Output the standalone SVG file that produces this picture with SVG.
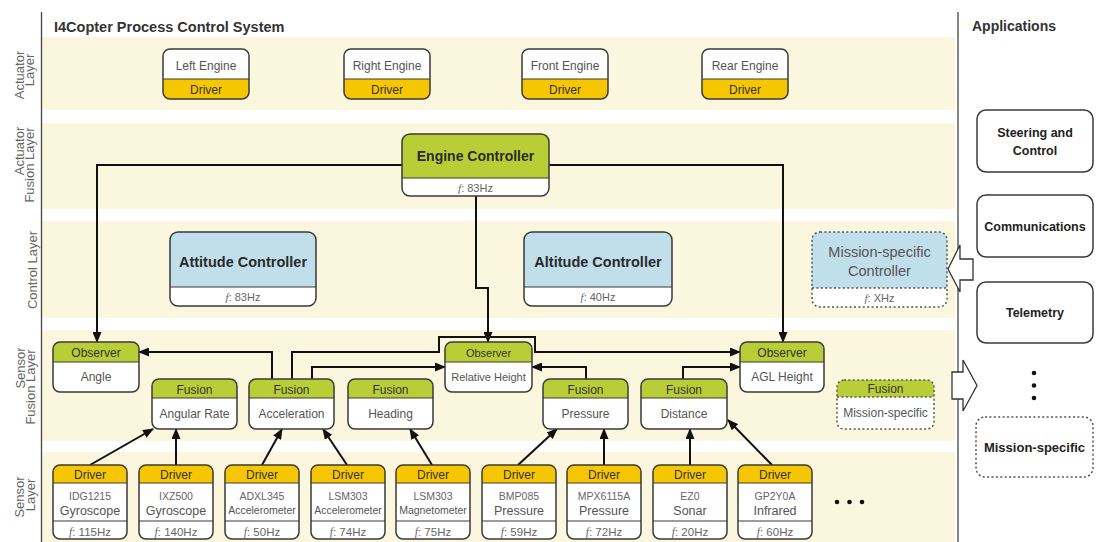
<svg xmlns="http://www.w3.org/2000/svg" width="1098" height="542" viewBox="0 0 1098 542">
  <style>
    .band{fill:#FBF6DE}
    .rule{stroke:#444;stroke-width:1.3}
    .box{fill:none;stroke:#3a3a3a;stroke-width:1.5}
    .dsh{fill:none;stroke:#555;stroke-width:1.5;stroke-dasharray:2 2.4}
    .div{stroke:#3a3a3a;stroke-width:1.2}
    .wf{fill:#fff}
    .yel{fill:#F6C600}
    .grn{fill:#B9CE36}
    .blu{fill:#C1DEEB}
    text{font-family:"Liberation Sans",Arial,Helvetica,sans-serif}
    .ttl{font-size:14.5px;font-weight:bold;fill:#333}
    .lay{font-size:13px;fill:#666;text-anchor:middle}
    .hd{font-size:12px;fill:#333;text-anchor:middle}
    .bd{font-size:12px;fill:#555;text-anchor:middle}
    .ctl{font-size:14.5px;font-weight:bold;fill:#2a2a2a;text-anchor:middle}
    .frq{font-size:11px;fill:#666;text-anchor:middle}
    .frs{font-size:11.5px;fill:#666;text-anchor:middle}
    .mdl{font-size:10.5px;fill:#666;text-anchor:middle}
    .typ{font-size:12.5px;fill:#555;text-anchor:middle}
    .sm{font-size:10.5px;fill:#555;text-anchor:middle}
    .app{font-size:12.5px;font-weight:bold;fill:#222;text-anchor:middle}
    .msc{font-size:14.5px;fill:#555;text-anchor:middle}
    .it{font-family:"Liberation Serif",serif;font-style:italic}
    .conn{fill:none;stroke:#111;stroke-width:2;marker-end:url(#ah)}
    .hollow{fill:#fff;stroke:#333;stroke-width:1.3}
  </style>
  <defs>
    <marker id="ah" markerUnits="userSpaceOnUse" markerWidth="11" markerHeight="9" refX="10" refY="4.5" orient="auto">
      <path d="M0,0 L11,4.5 L0,9 Z" fill="#111"/>
    </marker>
  </defs>

  <!-- layer bands -->
  <g id="bands">
    <rect class="band" x="42" y="37" width="913" height="73"/>
    <rect class="band" x="42" y="123" width="913" height="86"/>
    <rect class="band" x="42" y="221" width="913" height="97"/>
    <rect class="band" x="42" y="330" width="913" height="111"/>
    <rect class="band" x="42" y="452" width="913" height="90"/>
  </g>
  <line class="rule" x1="41.5" y1="12" x2="41.5" y2="542"/>
  <line class="rule" x1="958" y1="12" x2="958" y2="542"/>

  <!-- headings -->
  <text class="ttl" x="54" y="32">I4Copter Process Control System</text>
  <text class="ttl" x="972" y="31" style="font-size:14px">Applications</text>

  <!-- layer labels (rotated) -->
  <g id="layer-labels">
    <text class="lay" transform="rotate(-90)"><tspan x="-75" y="24">Actuator</tspan><tspan x="-70" y="34">Layer</tspan></text>
    <text class="lay" transform="rotate(-90)"><tspan x="-151" y="24">Actuator</tspan><tspan x="-165" y="34">Fusion Layer</tspan></text>
    <text class="lay" transform="rotate(-90)"><tspan x="-270" y="37">Control Layer</tspan></text>
    <text class="lay" transform="rotate(-90)"><tspan x="-368" y="25">Sensor</tspan><tspan x="-387" y="35">Fusion Layer</tspan></text>
    <text class="lay" transform="rotate(-90)"><tspan x="-497" y="24">Sensor</tspan><tspan x="-495" y="35">Layer</tspan></text>
  </g>

  <!-- connectors -->
  <g id="connectors">
    <path class="conn" d="M402,165 H97 V342"/>
    <path class="conn" d="M549,165 H783 V342"/>
    <path class="conn" d="M476,196 V288 H488 V342"/>
    <path class="conn" d="M272,379 V352 H139"/>
    <path class="conn" d="M292,379 V352 H439 V337 H535 V352 H740"/>
    <path class="conn" d="M312,379 V367 H445"/>
    <path class="conn" d="M586,379 V367 H532"/>
    <path class="conn" d="M683,379 V367 H740"/>
    <path class="conn" d="M90,465 L153,429"/>
    <path class="conn" d="M176,465 V429"/>
    <path class="conn" d="M262,465 L282,429"/>
    <path class="conn" d="M347,465 L323,429"/>
    <path class="conn" d="M432,465 L410,429"/>
    <path class="conn" d="M518,465 L557,429"/>
    <path class="conn" d="M604,465 V429"/>
    <path class="conn" d="M690,465 V429"/>
    <path class="conn" d="M772,465 L728,420"/>
    <polygon class="hollow" points="948,269 960,245 960,259 973,259 973,280 960,280 960,292"/>
    <polygon class="hollow" points="952,372 963,372 963,360 977,385.5 963,411 963,399 952,399"/>
  </g>

  <!-- actuator layer -->
  <g id="left-engine">
    <rect class="wf" x="163" y="49" width="86" height="50" rx="7"/>
    <path class="yel" d="M163,79 H249 V92 A7,7 0 0 1 242,99 H170 A7,7 0 0 1 163,92 Z"/>
    <line class="div" x1="163" y1="79" x2="249" y2="79"/>
    <rect class="box" x="163" y="49" width="86" height="50" rx="7"/>
    <text class="bd" x="206" y="70">Left Engine</text>
    <text class="hd" x="206" y="93.5">Driver</text>
  </g>
  <g id="right-engine">
    <rect class="wf" x="344" y="49" width="86" height="50" rx="7"/>
    <path class="yel" d="M344,79 H430 V92 A7,7 0 0 1 423,99 H351 A7,7 0 0 1 344,92 Z"/>
    <line class="div" x1="344" y1="79" x2="430" y2="79"/>
    <rect class="box" x="344" y="49" width="86" height="50" rx="7"/>
    <text class="bd" x="387" y="70">Right Engine</text>
    <text class="hd" x="387" y="93.5">Driver</text>
  </g>
  <g id="front-engine">
    <rect class="wf" x="522" y="49" width="86" height="50" rx="7"/>
    <path class="yel" d="M522,79 H608 V92 A7,7 0 0 1 601,99 H529 A7,7 0 0 1 522,92 Z"/>
    <line class="div" x1="522" y1="79" x2="608" y2="79"/>
    <rect class="box" x="522" y="49" width="86" height="50" rx="7"/>
    <text class="bd" x="565" y="70">Front Engine</text>
    <text class="hd" x="565" y="93.5">Driver</text>
  </g>
  <g id="rear-engine">
    <rect class="wf" x="702" y="49" width="86" height="50" rx="7"/>
    <path class="yel" d="M702,79 H788 V92 A7,7 0 0 1 781,99 H709 A7,7 0 0 1 702,92 Z"/>
    <line class="div" x1="702" y1="79" x2="788" y2="79"/>
    <rect class="box" x="702" y="49" width="86" height="50" rx="7"/>
    <text class="bd" x="745" y="70">Rear Engine</text>
    <text class="hd" x="745" y="93.5">Driver</text>
  </g>

  <!-- actuator fusion layer -->
  <g id="engine-controller">
    <rect class="wf" x="402" y="134" width="147" height="62" rx="8"/>
    <path class="grn" d="M402,178 V142 A8,8 0 0 1 410,134 H541 A8,8 0 0 1 549,142 V178 Z"/>
    <line class="div" x1="402" y1="178" x2="549" y2="178"/>
    <rect class="box" x="402" y="134" width="147" height="62" rx="8"/>
    <text class="ctl" x="475.5" y="161" style="font-size:14px">Engine Controller</text>
    <text class="frq" x="475.5" y="191.5"><tspan class="it">f</tspan>: 83Hz</text>
  </g>

  <!-- control layer -->
  <g id="attitude-controller">
    <rect class="wf" x="170" y="232" width="146" height="74" rx="8"/>
    <path class="blu" d="M170,287 V240 A8,8 0 0 1 178,232 H308 A8,8 0 0 1 316,240 V287 Z"/>
    <line class="div" x1="170" y1="287" x2="316" y2="287"/>
    <rect class="box" x="170" y="232" width="146" height="74" rx="8"/>
    <text class="ctl" x="243" y="267">Attitude Controller</text>
    <text class="frq" x="243" y="301"><tspan class="it">f</tspan>: 83Hz</text>
  </g>
  <g id="altitude-controller">
    <rect class="wf" x="524" y="232" width="148" height="74" rx="8"/>
    <path class="blu" d="M524,287 V240 A8,8 0 0 1 532,232 H664 A8,8 0 0 1 672,240 V287 Z"/>
    <line class="div" x1="524" y1="287" x2="672" y2="287"/>
    <rect class="box" x="524" y="232" width="148" height="74" rx="8"/>
    <text class="ctl" x="598" y="267">Altitude Controller</text>
    <text class="frq" x="598" y="301"><tspan class="it">f</tspan>: 40Hz</text>
  </g>
  <g id="mission-controller">
    <rect class="wf" x="812" y="232" width="135" height="75" rx="8"/>
    <path class="blu" d="M812,288 V240 A8,8 0 0 1 820,232 H939 A8,8 0 0 1 947,240 V288 Z"/>
    <line class="dsh" x1="812" y1="288" x2="947" y2="288"/>
    <rect class="dsh" x="812" y="232" width="135" height="75" rx="8"/>
    <text class="msc" x="879.5" y="257">Mission-specific</text>
    <text class="msc" x="879.5" y="276">Controller</text>
    <text class="frq" x="879.5" y="302"><tspan class="it">f</tspan>: XHz</text>
  </g>

  <!-- sensor fusion layer: observers -->
  <g id="observer-angle">
    <rect class="wf" x="53" y="342" width="86" height="50" rx="7"/>
    <path class="grn" d="M53,362 V349 A7,7 0 0 1 60,342 H132 A7,7 0 0 1 139,349 V362 Z"/>
    <line class="div" x1="53" y1="362" x2="139" y2="362"/>
    <rect class="box" x="53" y="342" width="86" height="50" rx="7"/>
    <text class="hd" x="96" y="356.5">Observer</text>
    <text class="bd" x="96" y="381">Angle</text>
  </g>
  <g id="observer-relative-height">
    <rect class="wf" x="445" y="342" width="87" height="50" rx="7"/>
    <path class="grn" d="M445,362 V349 A7,7 0 0 1 452,342 H525 A7,7 0 0 1 532,349 V362 Z"/>
    <line class="div" x1="445" y1="362" x2="532" y2="362"/>
    <rect class="box" x="445" y="342" width="87" height="50" rx="7"/>
    <text class="hd" x="488.5" y="356.5" style="font-size:11px">Observer</text>
    <text class="bd" x="488.5" y="381" style="font-size:11px">Relative Height</text>
  </g>
  <g id="observer-agl-height">
    <rect class="wf" x="740" y="342" width="84" height="50" rx="7"/>
    <path class="grn" d="M740,362 V349 A7,7 0 0 1 747,342 H817 A7,7 0 0 1 824,349 V362 Z"/>
    <line class="div" x1="740" y1="362" x2="824" y2="362"/>
    <rect class="box" x="740" y="342" width="84" height="50" rx="7"/>
    <text class="hd" x="782" y="356.5">Observer</text>
    <text class="bd" x="782" y="381">AGL Height</text>
  </g>

  <!-- sensor fusion layer: fusion nodes -->
  <g id="fusion-angular-rate">
    <rect class="wf" x="152" y="379" width="85" height="50" rx="7"/>
    <path class="grn" d="M152,398 V386 A7,7 0 0 1 159,379 H230 A7,7 0 0 1 237,386 V398 Z"/>
    <line class="div" x1="152" y1="398" x2="237" y2="398"/>
    <rect class="box" x="152" y="379" width="85" height="50" rx="7"/>
    <text class="hd" x="194.5" y="393.5">Fusion</text>
    <text class="bd" x="194.5" y="418">Angular Rate</text>
  </g>
  <g id="fusion-acceleration">
    <rect class="wf" x="249" y="379" width="85" height="50" rx="7"/>
    <path class="grn" d="M249,398 V386 A7,7 0 0 1 256,379 H327 A7,7 0 0 1 334,386 V398 Z"/>
    <line class="div" x1="249" y1="398" x2="334" y2="398"/>
    <rect class="box" x="249" y="379" width="85" height="50" rx="7"/>
    <text class="hd" x="291.5" y="393.5">Fusion</text>
    <text class="bd" x="291.5" y="418">Acceleration</text>
  </g>
  <g id="fusion-heading">
    <rect class="wf" x="348" y="379" width="85" height="50" rx="7"/>
    <path class="grn" d="M348,398 V386 A7,7 0 0 1 355,379 H426 A7,7 0 0 1 433,386 V398 Z"/>
    <line class="div" x1="348" y1="398" x2="433" y2="398"/>
    <rect class="box" x="348" y="379" width="85" height="50" rx="7"/>
    <text class="hd" x="390.5" y="393.5">Fusion</text>
    <text class="bd" x="390.5" y="418">Heading</text>
  </g>
  <g id="fusion-pressure">
    <rect class="wf" x="543" y="379" width="85" height="50" rx="7"/>
    <path class="grn" d="M543,398 V386 A7,7 0 0 1 550,379 H621 A7,7 0 0 1 628,386 V398 Z"/>
    <line class="div" x1="543" y1="398" x2="628" y2="398"/>
    <rect class="box" x="543" y="379" width="85" height="50" rx="7"/>
    <text class="hd" x="585.5" y="393.5">Fusion</text>
    <text class="bd" x="585.5" y="418">Pressure</text>
  </g>
  <g id="fusion-distance">
    <rect class="wf" x="641" y="379" width="86" height="50" rx="7"/>
    <path class="grn" d="M641,398 V386 A7,7 0 0 1 648,379 H720 A7,7 0 0 1 727,386 V398 Z"/>
    <line class="div" x1="641" y1="398" x2="727" y2="398"/>
    <rect class="box" x="641" y="379" width="86" height="50" rx="7"/>
    <text class="hd" x="684" y="393.5">Fusion</text>
    <text class="bd" x="684" y="418">Distance</text>
  </g>
  <g id="fusion-mission-specific">
    <rect class="wf" x="837" y="380" width="97" height="49" rx="7"/>
    <path class="grn" d="M837,397 V387 A7,7 0 0 1 844,380 H927 A7,7 0 0 1 934,387 V397 Z"/>
    <line class="dsh" x1="837" y1="397" x2="934" y2="397"/>
    <rect class="dsh" x="837" y="380" width="97" height="49" rx="7"/>
    <text class="hd" x="885.5" y="393">Fusion</text>
    <text class="bd" x="885.5" y="417">Mission-specific</text>
  </g>

  <!-- sensor layer: drivers -->
  <g id="driver-idg1215">
    <rect class="wf" x="53" y="465" width="74" height="74" rx="7"/>
    <path class="yel" d="M53,483 V472 A7,7 0 0 1 60,465 H120 A7,7 0 0 1 127,472 V483 Z"/>
    <line class="div" x1="53" y1="483" x2="127" y2="483"/>
    <line class="div" x1="53" y1="521" x2="127" y2="521"/>
    <rect class="box" x="53" y="465" width="74" height="74" rx="7"/>
    <text class="hd" x="90" y="479">Driver</text>
    <text class="mdl" x="90" y="500">IDG1215</text>
    <text class="typ" x="90" y="514.5">Gyroscope</text>
    <text class="frs" x="90" y="535.5"><tspan class="it">f</tspan>: 115Hz</text>
  </g>
  <g id="driver-ixz500">
    <rect class="wf" x="139" y="465" width="74" height="74" rx="7"/>
    <path class="yel" d="M139,483 V472 A7,7 0 0 1 146,465 H206 A7,7 0 0 1 213,472 V483 Z"/>
    <line class="div" x1="139" y1="483" x2="213" y2="483"/>
    <line class="div" x1="139" y1="521" x2="213" y2="521"/>
    <rect class="box" x="139" y="465" width="74" height="74" rx="7"/>
    <text class="hd" x="176" y="479">Driver</text>
    <text class="mdl" x="176" y="500">IXZ500</text>
    <text class="typ" x="176" y="514.5">Gyroscope</text>
    <text class="frs" x="176" y="535.5"><tspan class="it">f</tspan>: 140Hz</text>
  </g>
  <g id="driver-adxl345">
    <rect class="wf" x="225" y="465" width="74" height="74" rx="7"/>
    <path class="yel" d="M225,483 V472 A7,7 0 0 1 232,465 H292 A7,7 0 0 1 299,472 V483 Z"/>
    <line class="div" x1="225" y1="483" x2="299" y2="483"/>
    <line class="div" x1="225" y1="521" x2="299" y2="521"/>
    <rect class="box" x="225" y="465" width="74" height="74" rx="7"/>
    <text class="hd" x="262" y="479">Driver</text>
    <text class="mdl" x="262" y="500">ADXL345</text>
    <text class="sm" x="262" y="513.5">Accelerometer</text>
    <text class="frs" x="262" y="535.5"><tspan class="it">f</tspan>: 50Hz</text>
  </g>
  <g id="driver-lsm303-acc">
    <rect class="wf" x="311" y="465" width="74" height="74" rx="7"/>
    <path class="yel" d="M311,483 V472 A7,7 0 0 1 318,465 H378 A7,7 0 0 1 385,472 V483 Z"/>
    <line class="div" x1="311" y1="483" x2="385" y2="483"/>
    <line class="div" x1="311" y1="521" x2="385" y2="521"/>
    <rect class="box" x="311" y="465" width="74" height="74" rx="7"/>
    <text class="hd" x="348" y="479">Driver</text>
    <text class="mdl" x="348" y="500">LSM303</text>
    <text class="sm" x="348" y="513.5">Accelerometer</text>
    <text class="frs" x="348" y="535.5"><tspan class="it">f</tspan>: 74Hz</text>
  </g>
  <g id="driver-lsm303-mag">
    <rect class="wf" x="396" y="465" width="74" height="74" rx="7"/>
    <path class="yel" d="M396,483 V472 A7,7 0 0 1 403,465 H463 A7,7 0 0 1 470,472 V483 Z"/>
    <line class="div" x1="396" y1="483" x2="470" y2="483"/>
    <line class="div" x1="396" y1="521" x2="470" y2="521"/>
    <rect class="box" x="396" y="465" width="74" height="74" rx="7"/>
    <text class="hd" x="433" y="479">Driver</text>
    <text class="mdl" x="433" y="500">LSM303</text>
    <text class="sm" x="433" y="513.5">Magnetometer</text>
    <text class="frs" x="433" y="535.5"><tspan class="it">f</tspan>: 75Hz</text>
  </g>
  <g id="driver-bmp085">
    <rect class="wf" x="482" y="465" width="74" height="74" rx="7"/>
    <path class="yel" d="M482,483 V472 A7,7 0 0 1 489,465 H549 A7,7 0 0 1 556,472 V483 Z"/>
    <line class="div" x1="482" y1="483" x2="556" y2="483"/>
    <line class="div" x1="482" y1="521" x2="556" y2="521"/>
    <rect class="box" x="482" y="465" width="74" height="74" rx="7"/>
    <text class="hd" x="519" y="479">Driver</text>
    <text class="mdl" x="519" y="500">BMP085</text>
    <text class="typ" x="519" y="514.5">Pressure</text>
    <text class="frs" x="519" y="535.5"><tspan class="it">f</tspan>: 59Hz</text>
  </g>
  <g id="driver-mpx6115a">
    <rect class="wf" x="567" y="465" width="74" height="74" rx="7"/>
    <path class="yel" d="M567,483 V472 A7,7 0 0 1 574,465 H634 A7,7 0 0 1 641,472 V483 Z"/>
    <line class="div" x1="567" y1="483" x2="641" y2="483"/>
    <line class="div" x1="567" y1="521" x2="641" y2="521"/>
    <rect class="box" x="567" y="465" width="74" height="74" rx="7"/>
    <text class="hd" x="604" y="479">Driver</text>
    <text class="mdl" x="604" y="500">MPX6115A</text>
    <text class="typ" x="604" y="514.5">Pressure</text>
    <text class="frs" x="604" y="535.5"><tspan class="it">f</tspan>: 72Hz</text>
  </g>
  <g id="driver-ez0">
    <rect class="wf" x="653" y="465" width="74" height="74" rx="7"/>
    <path class="yel" d="M653,483 V472 A7,7 0 0 1 660,465 H720 A7,7 0 0 1 727,472 V483 Z"/>
    <line class="div" x1="653" y1="483" x2="727" y2="483"/>
    <line class="div" x1="653" y1="521" x2="727" y2="521"/>
    <rect class="box" x="653" y="465" width="74" height="74" rx="7"/>
    <text class="hd" x="690" y="479">Driver</text>
    <text class="mdl" x="690" y="500">EZ0</text>
    <text class="typ" x="690" y="514.5">Sonar</text>
    <text class="frs" x="690" y="535.5"><tspan class="it">f</tspan>: 20Hz</text>
  </g>
  <g id="driver-gp2y0a">
    <rect class="wf" x="738" y="465" width="74" height="74" rx="7"/>
    <path class="yel" d="M738,483 V472 A7,7 0 0 1 745,465 H805 A7,7 0 0 1 812,472 V483 Z"/>
    <line class="div" x1="738" y1="483" x2="812" y2="483"/>
    <line class="div" x1="738" y1="521" x2="812" y2="521"/>
    <rect class="box" x="738" y="465" width="74" height="74" rx="7"/>
    <text class="hd" x="775" y="479">Driver</text>
    <text class="mdl" x="775" y="500">GP2Y0A</text>
    <text class="typ" x="775" y="514.5">Infrared</text>
    <text class="frs" x="775" y="535.5"><tspan class="it">f</tspan>: 60Hz</text>
  </g>
  <g id="more-drivers" fill="#111">
    <circle cx="837" cy="502" r="2.3"/>
    <circle cx="849.5" cy="502" r="2.3"/>
    <circle cx="862" cy="502" r="2.3"/>
  </g>

  <!-- applications -->
  <g id="app-steering">
    <rect class="box" x="977" y="110" width="116" height="62" rx="9" style="fill:#fff"/>
    <text class="app" x="1035" y="137">Steering and</text>
    <text class="app" x="1035" y="155">Control</text>
  </g>
  <g id="app-communications">
    <rect class="box" x="977" y="195" width="116" height="62" rx="9" style="fill:#fff"/>
    <text class="app" x="1035" y="230.5">Communications</text>
  </g>
  <g id="app-telemetry">
    <rect class="box" x="977" y="282" width="116" height="61" rx="9" style="fill:#fff"/>
    <text class="app" x="1035" y="317">Telemetry</text>
  </g>
  <g id="app-more" fill="#111">
    <circle cx="1034" cy="373" r="2.3"/>
    <circle cx="1034" cy="385.5" r="2.3"/>
    <circle cx="1034" cy="398" r="2.3"/>
  </g>
  <g id="app-mission-specific">
    <rect class="dsh" x="976" y="417" width="117" height="60" rx="9"/>
    <text class="app" x="1034.5" y="452" style="font-size:13px">Mission-specific</text>
  </g>
</svg>
